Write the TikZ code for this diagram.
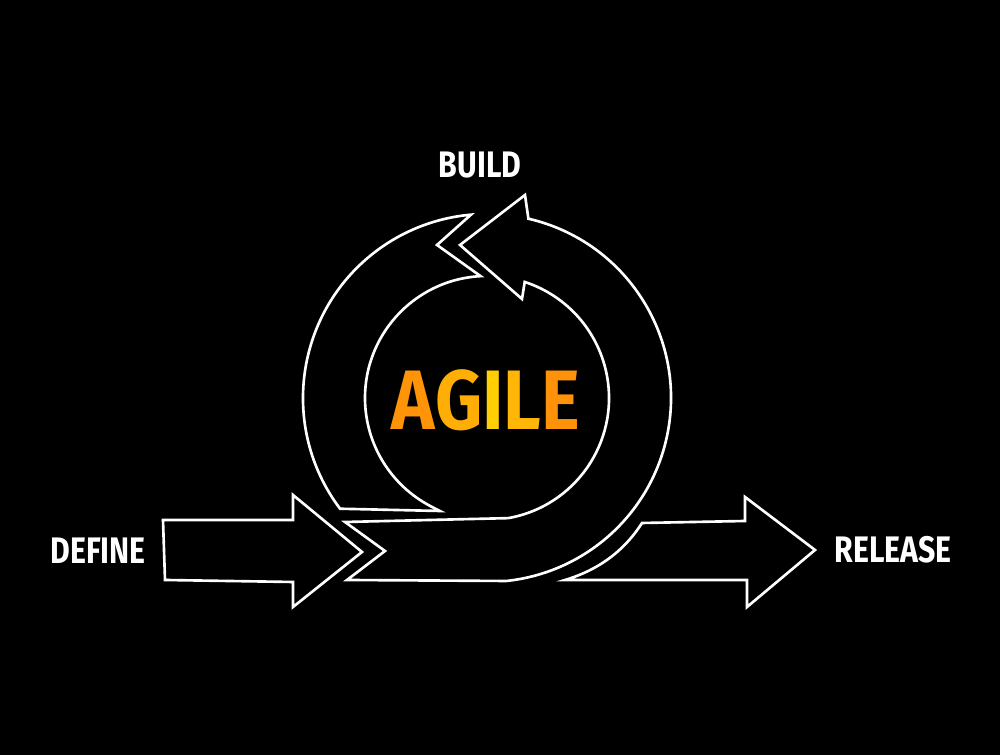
\documentclass[tikz,border=0pt]{standalone}
\usepackage{fontspec}
\setmainfont{Fira Sans}
\usetikzlibrary{calc}
\definecolor{agileA}{HTML}{FF9408}
\definecolor{agileG}{HTML}{FFAE06}
\definecolor{agileI}{HTML}{FFCF04}
\definecolor{agileL}{HTML}{FFB606}
\definecolor{agileE}{HTML}{FF9208}

\begin{document}
\begin{tikzpicture}[x=0.2mm,y=0.2mm]
	\tikzstyle{band}=[draw=white,line width=1.5pt,fill=black,line join=miter]
	\tikzstyle{stage}=[text=white,font=\fontsize{21}{24}\selectfont\bfseries,xscale=0.82]

	\fill[black] (0,0) rectangle (1000,755);
	\useasboundingbox (0,0) rectangle (1000,755);

	\coordinate (c) at (487,357);

	% left half of the loop, going up to build
	\draw[band] ($(c)+(217:184)$) arc[start angle=217,end angle=95,radius=184]
		-- (437,510) -- ($(c)+(93:122)$) arc[start angle=93,end angle=240,radius=122]
		.. controls (430,249) .. (440,244) -- cycle;

	% bottom and right half, ending in the head
	\draw[band] (460,510) -- (525,560) -- ($(c)+(77:184)$)
		arc[start angle=77,end angle=-84,radius=184] -- (347,175) -- (385,204) -- (345,233)
		-- ($(c)+(-80:122)$) arc[start angle=-80,end angle=72,radius=122] -- (522,456) -- cycle;

	% in and out arrows
	\draw[band] (163,235) -- (293,235) -- (293,260) -- (362,203) -- (293,148) -- (293,173) -- (165,175) -- cycle;
	\draw[band] (565,175) .. controls (605,187) and (628,210) .. (642,232) -- (745,234) -- (745,258)
		-- (815,205) -- (747,148) -- (747,175) -- cycle;

	\node[stage] (build) at (480,590) {BUILD};
	\node[stage] (define) at (98,204) {DEFINE};
	\node[stage] (release) at (893,205) {RELEASE};
	\node[font=\fontsize{48}{50}\selectfont\bfseries,xscale=0.87] (agile) at (486,355)
		{\textcolor{agileA}{A}\textcolor{agileG}{G}\textcolor{agileI}{I}\textcolor{agileL}{L}\textcolor{agileE}{E}};
\end{tikzpicture}
\end{document}
